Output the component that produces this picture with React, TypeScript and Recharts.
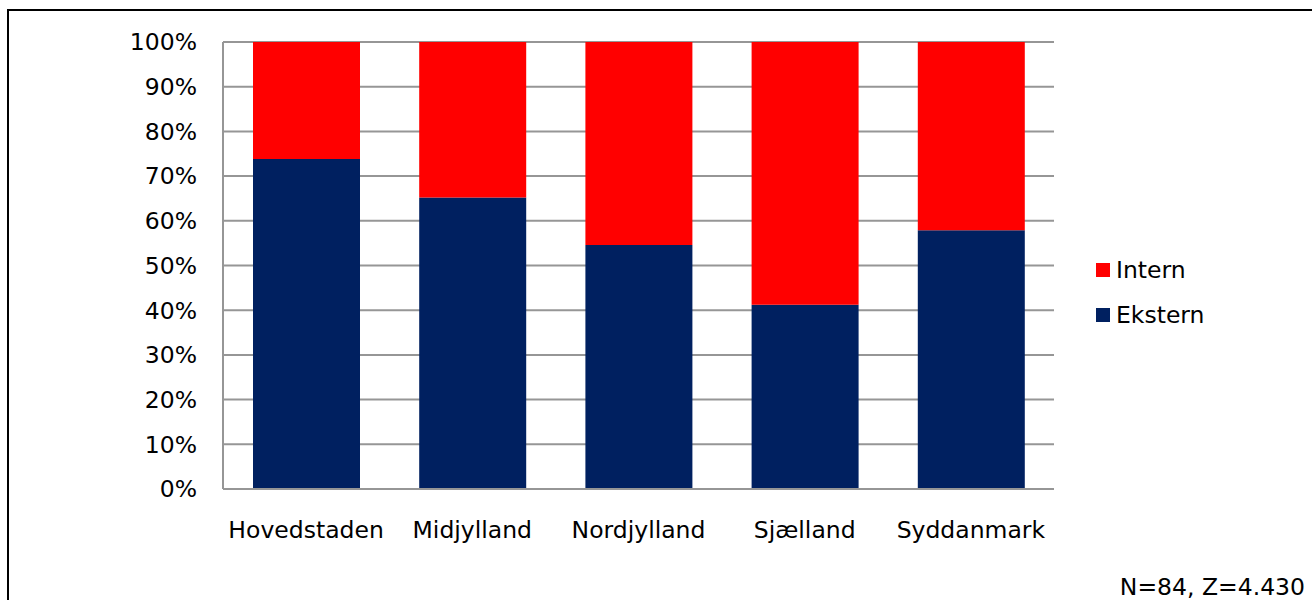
import React from 'react';
import { BarChart, Bar, XAxis, YAxis, CartesianGrid } from 'recharts';

const regions = ['Hovedstaden', 'Midjylland', 'Nordjylland', 'Sjælland', 'Syddanmark'];
const ekstern = [73.8, 65.2, 54.6, 41.2, 57.9];
const intern = [26.2, 34.8, 45.4, 58.8, 42.1];
const yTicks = [0, 10, 20, 30, 40, 50, 60, 70, 80, 90, 100];
const footnote = 'N=84, Z=4.430';

const COLOR_EKSTERN = '#002060';
const COLOR_INTERN = '#ff0000';
const FONT = '"DejaVu Sans", Verdana, sans-serif';
const FONT_SIZE = 23.5;

const data = regions.map((region, i) => ({
  region,
  Ekstern: ekstern[i],
  Intern: intern[i],
}));

// Legend lists the top segment first
const legendItems = [
  { name: 'Intern', color: COLOR_INTERN },
  { name: 'Ekstern', color: COLOR_EKSTERN },
];

const LegendBox = () => (
  <div
    style={{
      position: 'absolute',
      left: 1096,
      top: 247,
      fontFamily: FONT,
      fontSize: FONT_SIZE,
      color: '#000',
    }}
  >
    {legendItems.map((it) => (
      <div
        key={it.name}
        style={{ display: 'flex', alignItems: 'center', height: 45 }}
      >
        <span
          style={{
            display: 'inline-block',
            width: 14,
            height: 14,
            background: it.color,
            marginRight: 6,
          }}
        />
        <span>{it.name}</span>
      </div>
    ))}
  </div>
);

export default function App() {
  return (
    <div
      style={{
        position: 'absolute',
        left: 0,
        top: 0,
        width: 1312,
        height: 600,
        overflow: 'hidden',
        background: '#fff',
      }}
    >
      <div
        style={{
          position: 'absolute',
          left: 7,
          top: 9,
          width: 1305,
          height: 591,
          borderTop: '2px solid #000',
          borderLeft: '2px solid #000',
          boxSizing: 'border-box',
        }}
      />
      <div style={{ position: 'absolute', left: 0, top: 0 }}>
        <BarChart
          width={1312}
          height={600}
          data={data}
          margin={{ top: 42, right: 258, bottom: 81, left: 0 }}
        >
          <CartesianGrid
            vertical={false}
            stroke="#969696"
            strokeWidth={2}
          />
          <XAxis
            dataKey="region"
            height={30}
            axisLine={{ stroke: '#969696', strokeWidth: 2 }}
            tickLine={false}
            tickSize={0}
            tickMargin={32}
            interval={0}
            tick={{ fill: '#000', fontSize: FONT_SIZE, fontFamily: FONT }}
          />
          <YAxis
            width={223}
            domain={[0, 100]}
            ticks={yTicks}
            tickFormatter={(v: number) => `${v}%`}
            axisLine={{ stroke: '#969696', strokeWidth: 2 }}
            tickLine={false}
            tickSize={0}
            tickMargin={26}
            interval={0}
            tick={{ fill: '#000', fontSize: FONT_SIZE, fontFamily: FONT }}
          />
          <Bar
            dataKey="Ekstern"
            stackId="a"
            fill={COLOR_EKSTERN}
            barSize={107}
            isAnimationActive={false}
          />
          <Bar
            dataKey="Intern"
            stackId="a"
            fill={COLOR_INTERN}
            barSize={107}
            isAnimationActive={false}
          />
        </BarChart>
      </div>
      <LegendBox />
      <div
        style={{
          position: 'absolute',
          right: 7,
          top: 573,
          fontFamily: FONT,
          fontSize: FONT_SIZE,
          color: '#000',
          whiteSpace: 'nowrap',
        }}
      >
        {footnote}
      </div>
    </div>
  );
}
